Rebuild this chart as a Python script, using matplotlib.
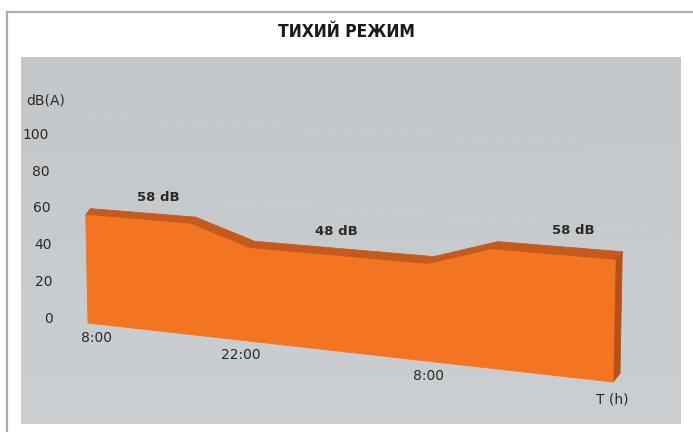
import numpy as np
import matplotlib
matplotlib.use("Agg")
import matplotlib.pyplot as plt
from matplotlib.transforms import Transform
from matplotlib.patches import Polygon
from matplotlib.lines import Line2D

# ---------------- data ----------------
title = "ТИХИЙ РЕЖИМ"
y_label = "dB(A)"
x_label = "T (h)"
y_ticks = [0, 20, 40, 60, 80, 100]
# schematic time position (0 = 8:00 start, 1 = end of the period)
profile_pos = [0.0, 0.198, 0.309, 0.646, 0.766, 1.0]
profile_db = [58, 58, 48, 48, 58, 58]
time_labels = ["8:00", "22:00", "8:00"]
time_label_pos = [0.015, 0.29, 0.648]
level_labels = ["58 dB", "48 dB", "58 dB"]
level_label_pos = [0.137, 0.474, 0.92]
level_label_db = [58, 48, 58]

W, H = 693, 432

# ---------------- pseudo 3D projection ----------------
class Persp(Transform):
    input_dims = 2
    output_dims = 2
    is_separable = False
    has_inverse = False

    def __init__(self, extrude=0.0):
        super().__init__()
        self.extrude = extrude

    def transform_non_affine(self, values):
        values = np.asarray(values, dtype=float).reshape(-1, 2)
        u = values[:, 0]
        v = values[:, 1]
        x0 = 88.0 + u * 525.0
        x = x0 + (x0 - 350.0) * 0.00015 * v
        y = 323.0 + 59.0 * u - (1.86 + 0.24 * u) * v
        x = x + self.extrude * (4.5 + 2.5 * u)
        y = y - self.extrude * (6.5 + 2.0 * u)
        return np.column_stack([x / W, 1.0 - y / H])


fig = plt.figure(figsize=(W / 100, H / 100), dpi=100)
fig.patch.set_facecolor("white")

# outer frame lines
fig.add_artist(Line2D([6.5 / W, 1.0], [1 - 11.5 / H, 1 - 11.5 / H],
                      transform=fig.transFigure, color="#a9abb0", lw=1.6))
fig.add_artist(Line2D([6.5 / W, 6.5 / W], [0, 1 - 11.5 / H],
                      transform=fig.transFigure, color="#a9abb0", lw=1.6))

# gray panel with soft gradient
ax = fig.add_axes([21 / W, 1 - 424 / H, 660 / W, 367 / H])
grad = np.linspace(0, 1, 256)[:, None]
c_top = np.array([0xc3, 0xc7, 0xca]) / 255
c_bot = np.array([0xcb, 0xcf, 0xd2]) / 255
img = c_top[None, None, :] * (1 - grad[:, :, None]) + c_bot[None, None, :] * grad[:, :, None]
ax.imshow(img, aspect="auto", extent=[0, 1, 0, 1], origin="upper")
ax.set_xlim(0, 1)
ax.set_ylim(0, 1)
ax.axis("off")

TF = Persp(0.0) + fig.transFigure
TB = Persp(1.0) + fig.transFigure
to_fig = fig.transFigure.inverted()

# very faint grid lines on the back
for t in y_ticks[1:]:
    fig.add_artist(Line2D([-0.02, 1.08], [t, t], transform=Persp(3.0) + fig.transFigure,
                          color="white", lw=1.0, alpha=0.07, zorder=1))

front_col = "#f37421"
top_col = "#c65a1d"
side_col = "#b5511a"

pts = list(zip(profile_pos, profile_db))
front_pts = np.array(pts)
fpx = to_fig.transform(TF.transform(front_pts))
bpx = to_fig.transform(TB.transform(front_pts))

# top faces
for i in range(len(pts) - 1):
    quad = np.array([fpx[i], fpx[i + 1], bpx[i + 1], bpx[i]])
    fig.add_artist(Polygon(quad, closed=True, transform=fig.transFigure,
                           facecolor=top_col, edgecolor=top_col, lw=0.6, zorder=3))

# right side face
side = np.array([[profile_pos[-1], 0], [profile_pos[-1], profile_db[-1]]])
sf = to_fig.transform(TF.transform(side))
sb = to_fig.transform(TB.transform(side))
fig.add_artist(Polygon(np.array([sf[0], sf[1], sb[1], sb[0]]), closed=True,
                       transform=fig.transFigure, facecolor=side_col,
                       edgecolor=side_col, lw=0.6, zorder=3))

# front face
face = np.array([[profile_pos[0], 0]] + pts + [[profile_pos[-1], 0]])
fig.add_artist(Polygon(face, closed=True, transform=TF, facecolor=front_col,
                       edgecolor=front_col, lw=0.6, zorder=4))

font = ["DejaVu Sans"]
txt_col = "#2a2a2a"

# y ticks
for t in y_ticks:
    fig.text(-0.066, t, str(t), transform=TF, ha="right", va="center",
             fontsize=10, color=txt_col, family=font, zorder=5)
fig.text(26 / W, 1 - 101 / H, y_label, ha="left", va="center",
         fontsize=10, color=txt_col, family=font, zorder=5)

# time labels
for p, lab in zip(time_label_pos, time_labels):
    fig.text(p, -7.5, lab, transform=TF, ha="center", va="center",
             fontsize=10, color=txt_col, family=font, zorder=5)
fig.text(1.0, -8.2, x_label, transform=TF, ha="center", va="center",
         fontsize=10, color=txt_col, family=font, zorder=5)

# level labels
for p, d, lab in zip(level_label_pos, level_label_db, level_labels):
    fig.text(p, d + 12.5, lab, transform=TF, ha="center", va="center",
             fontsize=9.5, fontweight="bold", color=txt_col, family=font, zorder=5)

# title
fig.text(346 / W, 1 - 32 / H, title, ha="center", va="center", fontsize=12.5,
         fontweight="bold", fontstretch="condensed", color="#1a1a1a",
         family=["DejaVu Sans"], zorder=5)

fig.savefig("out.png", dpi=100)
